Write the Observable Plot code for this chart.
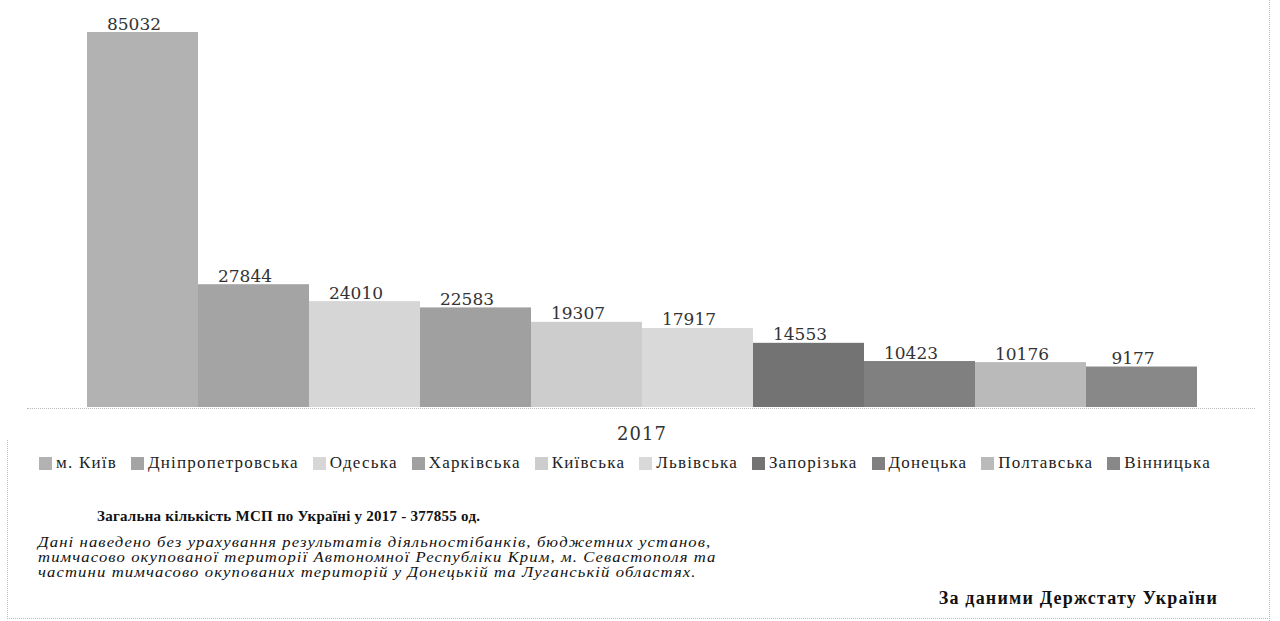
<!DOCTYPE html>
<html><head><meta charset="utf-8">
<script src="https://cdn.jsdelivr.net/npm/d3@7"></script>
<script src="https://cdn.jsdelivr.net/npm/@observablehq/plot@0.6"></script>
<style>
html,body{margin:0;padding:0;background:#fff;}
#wrap{position:relative;width:1280px;height:621px;overflow:hidden;font-family:"Liberation Serif",serif;}
#chart{position:absolute;left:0;top:0;}
#legend{position:absolute;left:0;top:453px;width:1250px;display:flex;justify-content:center;gap:14px;font-size:17px;letter-spacing:1.2px;color:#222;}
#legend .it{display:flex;align-items:center;gap:4px;}
#legend .sw{width:13px;height:13px;display:inline-block;}
#base{position:absolute;left:27px;width:1228px;top:408px;border-top:1px dotted #bbb;}
#frame{position:absolute;left:7px;top:440px;width:1262px;height:178px;border-left:1px dotted #bbb;border-bottom:1px dotted #bbb;}
#rframe{position:absolute;left:1269px;top:0;height:621px;border-left:1px dotted #bbb;}
#total{position:absolute;left:97px;top:508px;font-weight:bold;font-size:15px;letter-spacing:0.25px;color:#111;}
#note{position:absolute;left:38px;top:535px;font-style:italic;font-size:15px;letter-spacing:1px;line-height:15px;color:#111;transform:scaleX(1.11);transform-origin:0 0;white-space:nowrap;}
#src{position:absolute;right:62px;top:588px;font-weight:bold;font-size:18px;letter-spacing:1.2px;color:#111;}
</style></head>
<body><div id="wrap">
<div id="base"></div><div id="frame"></div><div id="rframe"></div>
<div id="chart"></div>
<div id="legend"></div>
<div id="total"></div>
<div id="note"></div>
<div id="src"></div>
</div>
<script>
const years = ["2017"];
const regions = ["м. Київ","Дніпропетровська","Одеська","Харківська","Київська","Львівська","Запорізька","Донецька","Полтавська","Вінницька"];
const values = [85032, 27844, 24010, 22583, 19307, 17917, 14553, 10423, 10176, 9177];
const colors = ["#b2b2b2","#a4a4a4","#d6d6d6","#a0a0a0","#cdcdcd","#d9d9d9","#737373","#808080","#bababa","#888888"];
const totalText = "Загальна кількість МСП по Україні у 2017 - 377855 од.";
const noteLines = [
  "Дані наведено без урахування результатів діяльностібанків, бюджетних установ,",
  "тимчасово окупованої території Автономної Республіки Крим, м. Севастополя та",
  "частини тимчасово окупованих територій у Донецькій та Луганській областях."
];
const sourceText = "За даними Держстату України";

const data = regions.map((r, i) => ({year: years[0], region: r, value: values[i]}));

const chart = Plot.plot({
  width: 1280,
  height: 445,
  marginLeft: 86,
  marginRight: 83,
  marginTop: 32,
  marginBottom: 38,
  style: {fontFamily: "DejaVu Serif, serif", background: "transparent"},
  fx: {domain: years, padding: 0, label: null, axis: "bottom", tickSize: 0, tickPadding: 20, fontSize: 18},
  x: {domain: regions, padding: 0, axis: null},
  y: {domain: [0, 85032], axis: null},
  color: {domain: regions, range: colors},
  marks: [
    Plot.barY(data, {fx: "year", x: "region", y: "value", fill: "region", inset: 0}),
    Plot.text(data, {fx: "year", x: "region", y: "value", text: d => String(d.value), lineAnchor: "bottom", dy: -3, dx: -9, fontSize: 17, fill: "#333"})
  ]
});
chart.querySelectorAll("g[aria-label='fx-axis tick label']").forEach(g => { g.setAttribute("font-size", "18"); g.setAttribute("fill", "#333"); g.setAttribute("letter-spacing", "1"); });
document.getElementById("chart").appendChild(chart);

const leg = document.getElementById("legend");
regions.forEach((r, i) => {
  const it = document.createElement("div"); it.className = "it";
  const sw = document.createElement("span"); sw.className = "sw"; sw.style.background = colors[i];
  const t = document.createElement("span"); t.textContent = r;
  it.appendChild(sw); it.appendChild(t); leg.appendChild(it);
});
document.getElementById("total").textContent = totalText;
document.getElementById("note").innerHTML = noteLines.map(s => s.replace(/&/g,"&amp;")).join("<br>");
document.getElementById("src").textContent = sourceText;
</script>
</body></html>
